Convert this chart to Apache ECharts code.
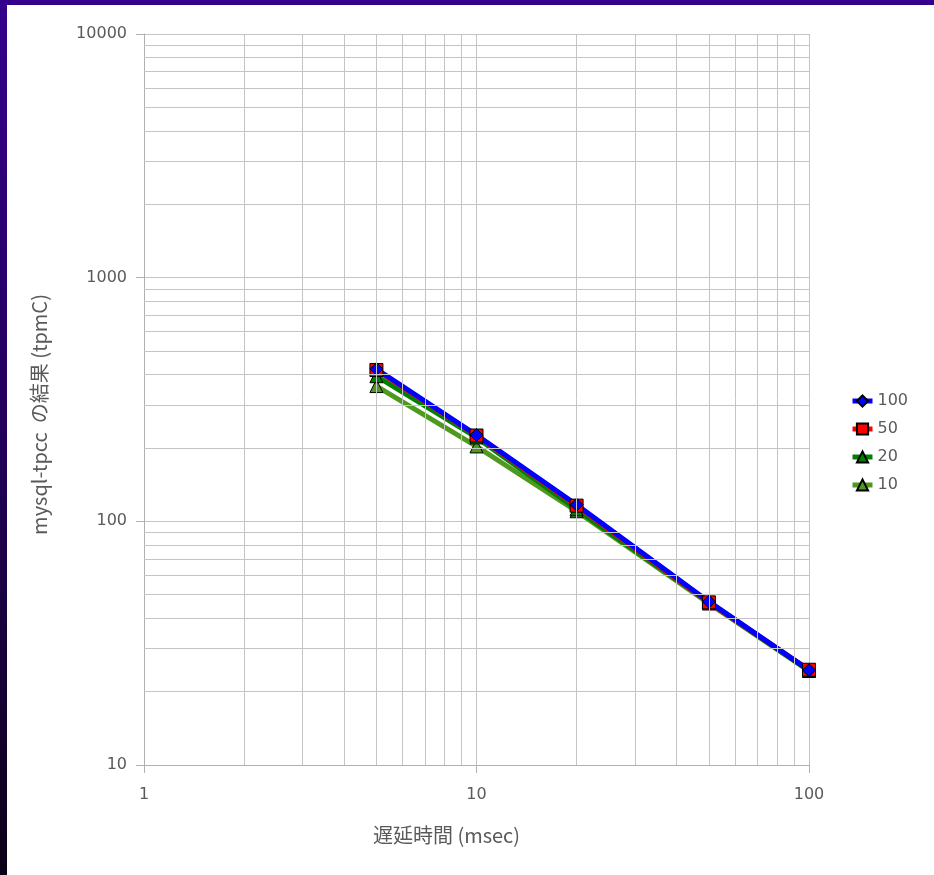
<!DOCTYPE html>
<html>
<head>
<meta charset="utf-8">
<script src="https://cdn.jsdelivr.net/npm/echarts@6/dist/echarts.min.js"></script>
<style>
  html, body {
    margin: 0;
    padding: 0;
    width: 934px;
    height: 875px;
    overflow: hidden;
    background: linear-gradient(to bottom, #35008c 0%, #22005a 50%, #0c0016 100%);
  }
  #chart {
    position: absolute;
    left: 7px;
    top: 5px;
    width: 927px;
    height: 870px;
    background: #ffffff;
  }
</style>
</head>
<body>
<div id="chart"></div>
<script>
// 遅延時間 (msec)
const delays = [5, 10, 20, 50, 100]
// mysql-tpcc の結果 (tpmC)
const tpmc100 = [422, 226, 117, 46.8, 24.5]
const tpmc50 = [418, 225, 116, 46.5, 24.6]
const tpmc20 = [394, 221, 112, 46.5, 24.4]
const tpmc10 = [359, 203, 110, 46, 24.3]
const seriesNames = ['100', '50', '20', '10']

// 対数目盛の補助線
const xMinorTicks = [2, 3, 4, 5, 6, 7, 8, 9, 20, 30, 40, 50, 60, 70, 80, 90]
const yMinorTicks = [20, 30, 40, 50, 60, 70, 80, 90, 200, 300, 400, 500, 600, 700, 800, 900,
  2000, 3000, 4000, 5000, 6000, 7000, 8000, 9000]

const gridColor = '#c4c4c4'
const textColor = '#5a5a5a'

function pairs(values) {
  return delays.map((d, i) => [d, values[i]])
}

function lineSeries(name, values, color, symbol) {
  return {
    name: name,
    type: 'line',
    data: pairs(values),
    symbol: symbol,
    symbolSize: 13,
    lineStyle: { color: color, width: 5 },
    itemStyle: { color: color, borderColor: '#000', borderWidth: 1 },
    emphasis: { disabled: true },
    z: 3
  }
}

const chart = echarts.init(document.getElementById('chart'))

const minorLines = []
xMinorTicks.forEach((v) => minorLines.push({ xAxis: v }))
yMinorTicks.forEach((v) => minorLines.push({ yAxis: v }))

const option = {
  animation: false,
  grid: {
    left: 137,
    right: 125,
    top: 29,
    bottom: 110
  },
  legend: {
    data: seriesNames,
    orient: 'vertical',
    left: 843,
    top: 388,
    padding: 0,
    itemWidth: 20,
    itemHeight: 14,
    itemGap: 12,
    lineStyle: { width: 5 },
    textStyle: { color: textColor, fontSize: 16, fontFamily: 'DejaVu Sans' }
  },
  xAxis: {
    type: 'log',
    logBase: 10,
    min: 1,
    max: 100,
    name: '遅延時間 (msec)',
    nameLocation: 'middle',
    nameGap: 60,
    nameTextStyle: {
      color: textColor,
      fontSize: 20,
      fontFamily: 'Noto Sans CJK JP',
      padding: [0, 60, 0, 0]
    },
    axisLine: { lineStyle: { color: '#b0b0b0', width: 1 } },
    axisTick: { show: true, length: 8, lineStyle: { color: '#b0b0b0' } },
    axisLabel: { color: textColor, fontSize: 16, margin: 22, fontFamily: 'DejaVu Sans' },
    splitLine: { show: true, lineStyle: { color: gridColor, width: 1 } }
  },
  yAxis: {
    type: 'log',
    logBase: 10,
    min: 10,
    max: 10000,
    name: 'mysql-tpcc  の結果 (tpmC)',
    nameLocation: 'middle',
    nameGap: 95,
    nameTextStyle: {
      color: textColor,
      fontSize: 20,
      fontFamily: 'Noto Sans CJK JP',
      padding: [0, 30, 0, 0]
    },
    axisLine: { show: true, lineStyle: { color: '#b0b0b0', width: 1 } },
    axisTick: { show: true, length: 8, lineStyle: { color: '#b0b0b0' } },
    axisLabel: {
      color: textColor,
      fontSize: 16,
      margin: 17,
      fontFamily: 'DejaVu Sans',
      formatter: (v) => String(v)
    },
    splitLine: { show: true, lineStyle: { color: gridColor, width: 1 } }
  },
  series: [
    {
      name: 'minor-grid',
      type: 'line',
      data: [],
      silent: true,
      z: 1,
      markLine: {
        silent: true,
        symbol: 'none',
        label: { show: false },
        lineStyle: { color: gridColor, width: 1, type: 'solid' },
        emphasis: { disabled: true },
        animation: false,
        data: minorLines
      }
    },
    lineSeries(seriesNames[3], tpmc10, '#4e9a1e', 'triangle'),
    lineSeries(seriesNames[2], tpmc20, '#008000', 'triangle'),
    lineSeries(seriesNames[1], tpmc50, '#ff0000', 'rect'),
    lineSeries(seriesNames[0], tpmc100, '#0000ff', 'diamond')
  ]
}

chart.setOption(option)
</script>
</body>
</html>
